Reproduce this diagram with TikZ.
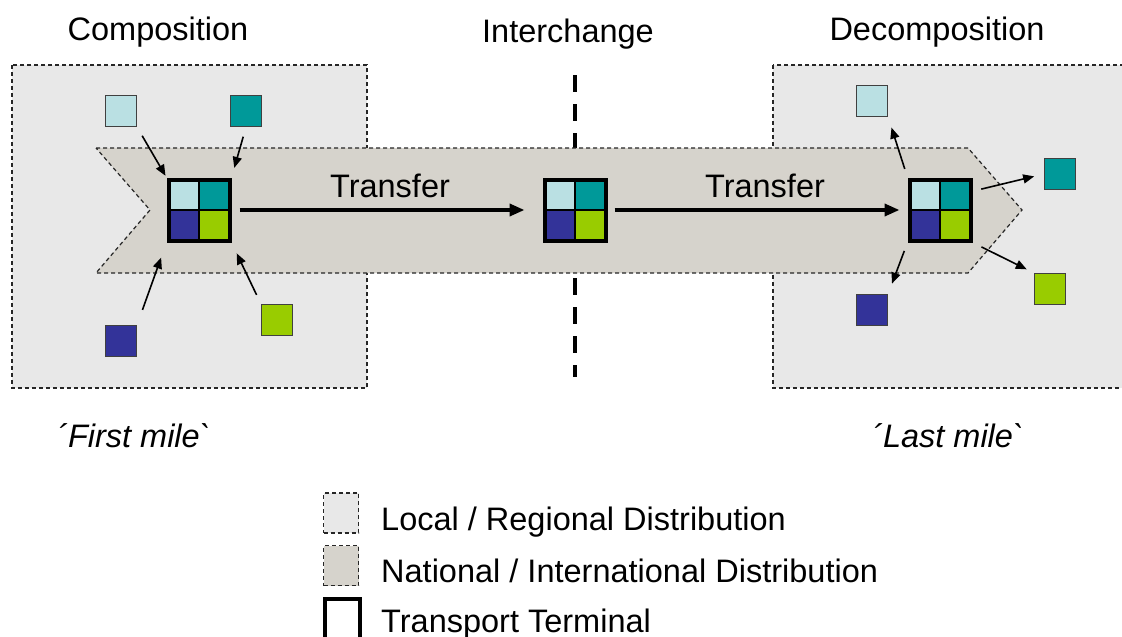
\documentclass[tikz,border=0pt]{standalone}
\usepackage{fontspec}
\setmainfont{Liberation Sans}
% same face without TeX quote ligatures, so that ` stays a grave accent
\newfontfamily\plainsans{Liberation Sans}[Ligatures=TeXOff]
\usetikzlibrary{arrows.meta}

\definecolor{localgray}{HTML}{E8E8E8}
\definecolor{natgray}{HTML}{D6D3CC}
\definecolor{cargoA}{HTML}{BAE0E3}
\definecolor{cargoB}{HTML}{009999}
\definecolor{cargoC}{HTML}{333399}
\definecolor{cargoD}{HTML}{99CC00}

% terminal with four cargo quadrants: name, x, y
\newcommand\terminalbox[3]{%
  \begin{scope}[shift={(#2,#3)}]
    \fill[cargoA] (-30,-30) rectangle (0,0);
    \fill[cargoB] (0,-30) rectangle (30,0);
    \fill[cargoC] (-30,0) rectangle (0,30);
    \fill[cargoD] (0,0) rectangle (30,30);
    \draw[line width=2pt] (-30,0) -- (30,0) (0,-30) -- (0,30);
  \end{scope}
  \node[terminal] (#1) at (#2,#3) {};
}

\begin{document}
\begin{tikzpicture}[x=1pt,y=-1pt,
  lbl/.style={font=\fontsize{32.5}{39}\selectfont, inner sep=0pt},
  milelbl/.style={font=\plainsans\fontsize{32.5}{39}\selectfont\itshape, inner sep=0pt, anchor=base west},
  region/.style={dash pattern=on 4pt off 3pt, line width=1.2pt, draw=black!85},
  cargo/.style={minimum size=31pt, inner sep=0pt, draw=black!75, line width=1.2pt},
  terminal/.style={minimum size=61pt, inner sep=0pt, draw=black, line width=4pt},
  flow/.style={-{Triangle[length=11pt,width=9pt]}, line width=1.6pt},
  transfer/.style={-{Triangle[length=15pt,width=12pt]}, line width=3.6pt},
  legbox/.style={minimum width=35pt, minimum height=40pt, inner sep=0pt}
]
\clip (0,0) rectangle (1122,637);

% local / regional areas
\filldraw[fill=localgray, region] (12,65) rectangle (367,388);
\filldraw[fill=localgray, region] (773,65) rectangle (1140,388);

% interchange border
\draw[line width=3.5pt, dash pattern=on 17pt off 12pt] (575,75) -- (575,377);

% national / international corridor
\filldraw[fill=natgray, region]
  (96,148) -- (968,148) -- (1022,210) -- (968,273) -- (96,273) -- (150,210) -- cycle;

% terminals
\terminalbox{t1}{199}{210}
\terminalbox{t2}{575}{210}
\terminalbox{t3}{940}{210}

% single consignments, first mile
\node[cargo, fill=cargoA] (a1) at (121,111) {};
\node[cargo, fill=cargoB] (b1) at (246,111) {};
\node[cargo, fill=cargoC] (c1) at (121,341) {};
\node[cargo, fill=cargoD] (d1) at (277,320) {};

% single consignments, last mile
\node[cargo, fill=cargoA] (a3) at (872,101) {};
\node[cargo, fill=cargoB] (b3) at (1060,174) {};
\node[cargo, fill=cargoC] (c3) at (872,310) {};
\node[cargo, fill=cargoD] (d3) at (1050,289) {};

% composition
\draw[flow, shorten <=10pt, shorten >=2pt] (a1.south east) -- (t1.north west);
\draw[flow, shorten <=10pt, shorten >=10pt] (b1.south) -- (t1.north east);
\draw[flow, shorten <=16pt, shorten >=16pt] (c1.north east) -- (t1.south west);
\draw[flow, shorten <=10pt, shorten >=12pt] (d1.north west) -- (t1.south east);

% decomposition
\draw[flow, shorten <=9pt, shorten >=11pt] (t3.north west) -- (a3.south east);
\draw[flow, shorten <=9pt, shorten >=10pt] (t3.30) -- (b3.west);
\draw[flow, shorten <=9pt, shorten >=11pt] (t3.south west) -- (c3.north east);
\draw[flow, shorten <=10pt, shorten >=8pt] (t3.south east) -- (d3.north west);

% transfers
\draw[transfer, shorten <=8pt, shorten >=18pt] (t1.east) -- (t2.west);
\draw[transfer, shorten <=7pt, shorten >=8pt] (t2.east) -- (t3.west);
\node[lbl, anchor=base] (tr1) at (390,197) {Transfer};
\node[lbl, anchor=base] (tr2) at (765,197) {Transfer};

% headings
\node[lbl, anchor=base] (hc) at (158,40) {Composition};
\node[lbl, anchor=base] (hi) at (568,42) {Interchange};
\node[lbl, anchor=base] (hd) at (937,40) {Decomposition};

\node[milelbl] (fm) at (57,447) {´First mile`};
\node[milelbl] (lm) at (872,447) {´Last mile`};

% legend
\node[legbox, fill=localgray, draw, region] (k1) at (341,513) {};
\node[legbox, fill=natgray, draw, region] (k2) at (341,565.5) {};
\node[legbox, fill=white, draw, line width=4pt, minimum height=44pt] (k3) at (342,621) {};
\node[lbl, anchor=base west] (l1) at (381,530) {Local / Regional Distribution};
\node[lbl, anchor=base west] (l2) at (381,582) {National / International Distribution};
\node[lbl, anchor=base west] (l3) at (381,632) {Transport Terminal};
\end{tikzpicture}
\end{document}
